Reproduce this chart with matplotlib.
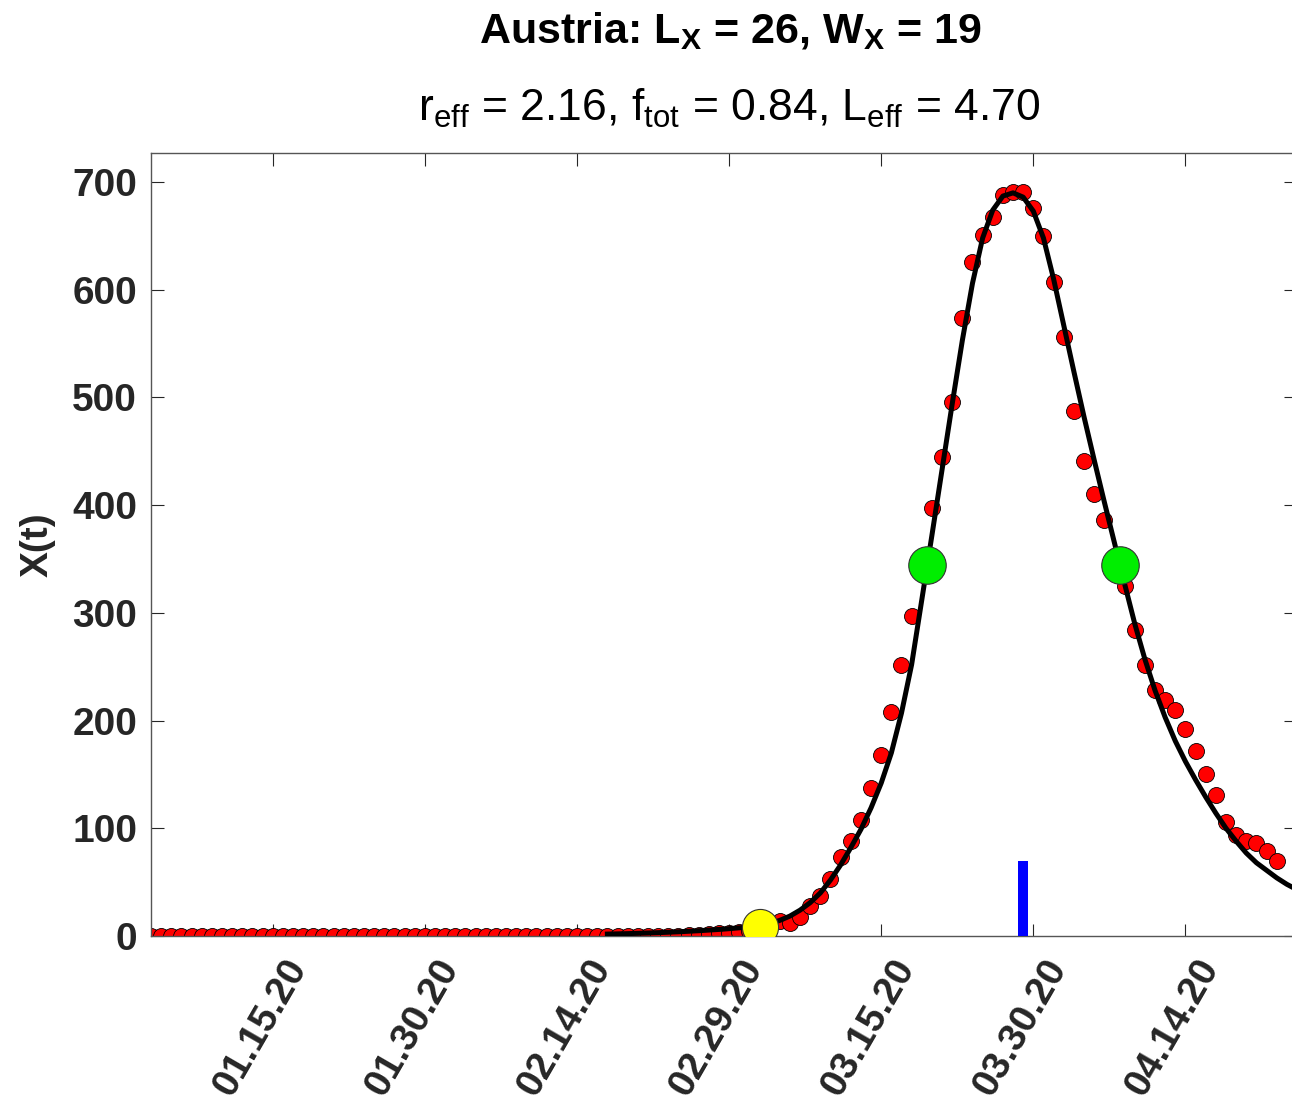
import numpy as np
import pandas as pd
import matplotlib
matplotlib.use('Agg')
import matplotlib.pyplot as plt
import matplotlib.dates as mdates
import matplotlib.transforms as mtransforms

plt.rcParams['font.family'] = ['Liberation Sans', 'DejaVu Sans']
plt.rcParams['mathtext.fontset'] = 'custom'
plt.rcParams['mathtext.rm'] = 'Liberation Sans'
plt.rcParams['mathtext.bf'] = 'Liberation Sans:bold'

# daily data X(t), from 2020-01-03
start = '2020-01-03'
x_data = [0] * 53 + [1, 1, 2, 3, 3, 4, 5, 7, 9, 14, 12, 18, 28, 37, 53, 73, 88, 108,
                     137, 168, 208, 252, 297, 345, 397, 445, 496, 574, 626, 651, 668,
                     688, 691, 691, 676, 650, 607, 556, 487, 441, 410, 386, 350, 325,
                     284, 252, 228, 219, 210, 192, 172, 150, 131, 106, 94, 88, 86, 79, 70]

# fitted curve (days 45 .. 113)
fit_start = '2020-02-17'
x_fit = [1.8, 2.0, 2.2, 2.5, 2.8, 3.1, 3.5, 3.9, 4.4, 4.9, 5.5, 6.1, 6.8, 7.6, 8.4,
         9.2, 11.5, 14.5, 18.5, 24, 31, 40, 52, 66, 82, 99, 119, 142, 170, 207, 252,
         312, 372, 433, 494, 553, 606, 648, 674, 687, 690, 686, 673, 648, 610, 567,
         524, 482, 442, 403, 365, 327, 290, 257, 228, 203, 181, 162, 145, 129, 114,
         100, 88, 77, 68, 61, 54, 48, 43]

# markers
start_pt = ('2020-03-03', 8.4)
half_pts = (['2020-03-19 12:00', '2020-04-07 13:30'], [344.5, 344.5])
bar_date = '2020-03-29'
bar_height = 70

tick_dates = ['2020-01-15', '2020-01-30', '2020-02-14', '2020-02-29',
              '2020-03-15', '2020-03-30', '2020-04-14']

days = pd.date_range(start, periods=len(x_data), freq='D')
fit_days = pd.date_range(fit_start, periods=len(x_fit), freq='D')

fig = plt.figure(figsize=(12.92, 11.05), dpi=100)
ax = fig.add_axes([151/1292, 169/1105, 1145/1292, 783/1105])

ax.plot(days, x_data, 'o', color='red', markersize=11.5,
        markeredgecolor='black', markeredgewidth=0.6, zorder=2)
ax.plot(fit_days, x_fit, '-', color='black', linewidth=3.6, zorder=3)
ax.bar(pd.Timestamp(bar_date), bar_height, width=1.0, color='blue', zorder=3)
ax.plot(pd.to_datetime(half_pts[0]), half_pts[1], 'o', color='#00ee00', markersize=27,
        markeredgecolor='#333333', markeredgewidth=0.8, zorder=4)
ax.plot(pd.Timestamp(start_pt[0]), start_pt[1], 'o', color='yellow', markersize=26,
        markeredgecolor='#333333', markeredgewidth=0.8, zorder=4)

ax.set_xlim(pd.Timestamp(start), pd.Timestamp(start) + pd.Timedelta(days=112.9))
ax.set_ylim(0, 727)
ax.set_yticks(range(0, 701, 100))
ax.set_xticks(pd.to_datetime(tick_dates))
ax.xaxis.set_major_formatter(mdates.DateFormatter('%m.%d.%y'))

ax.tick_params(direction='in', length=9, width=0.8, top=True, right=True,
               colors='#262626', labelsize=28)
ax.tick_params(axis='y', pad=10)
ax.tick_params(axis='x', pad=12)
shift = mtransforms.ScaledTranslation(0.10, 0, fig.dpi_scale_trans)
for lab in ax.get_xticklabels():
    lab.set_rotation(60)
    lab.set_ha('right')
    lab.set_rotation_mode('anchor')
    lab.set_fontweight('bold')
    lab.set_transform(lab.get_transform() + shift)
for lab in ax.get_yticklabels():
    lab.set_fontweight('bold')
for sp in ax.spines.values():
    sp.set_color('#555555')
    sp.set_linewidth(1.0)

ax.set_ylabel('X(t)', fontsize=28, fontweight='bold', color='#262626', labelpad=12)

fig.text(730/1292, 1 - 31/1105, r'Austria: $\mathbf{L}_\mathbf{X}$ = 26, $\mathbf{W}_\mathbf{X}$ = 19',
         ha='center', va='center', fontsize=31, fontweight='bold')
fig.text(729/1292, 1 - 108/1105,
         r'$\mathrm{r}_\mathrm{eff}$ = 2.16, $\mathrm{f}_\mathrm{tot}$ = 0.84, $\mathrm{L}_\mathrm{eff}$ = 4.70',
         ha='center', va='center', fontsize=32)

fig.savefig('out.png', dpi=100)
